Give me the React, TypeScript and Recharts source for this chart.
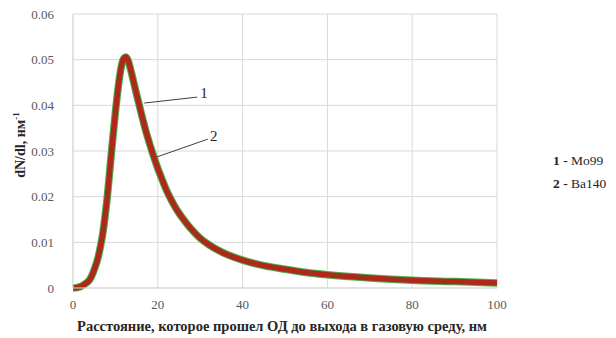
import { LineChart, Line, XAxis, YAxis, CartesianGrid, ReferenceLine, ReferenceDot, Label } from 'recharts'

const distance = [0, 1, 2, 3, 4, 5, 6, 6.5, 7, 7.5, 8, 9, 10, 11, 11.5, 12, 12.5, 13, 13.5, 14, 15, 16, 17, 18, 19, 20, 21, 22, 23, 24, 25, 26, 27, 28, 29, 30, 32, 35, 40, 45, 50, 55, 60, 70, 80, 90, 100]
const mo99 = [0, 0.0001, 0.0004, 0.001, 0.0019, 0.004, 0.007, 0.0092, 0.0118, 0.0152, 0.0192, 0.029, 0.0385, 0.0463, 0.049, 0.0503, 0.0506, 0.0498, 0.0482, 0.0463, 0.0424, 0.0386, 0.035, 0.0318, 0.0289, 0.0262, 0.0238, 0.0215, 0.0196, 0.0179, 0.0164, 0.0151, 0.0139, 0.0128, 0.0118, 0.0109, 0.0095, 0.0079, 0.0061, 0.0049, 0.0041, 0.0034, 0.0029, 0.0022, 0.0017, 0.0014, 0.0011]
const ba140 = [0, 0.0001, 0.0004, 0.001, 0.0019, 0.004, 0.007, 0.0092, 0.0118, 0.0152, 0.0192, 0.029, 0.0385, 0.0463, 0.049, 0.0503, 0.0506, 0.0498, 0.0482, 0.0463, 0.0424, 0.0386, 0.035, 0.0318, 0.0289, 0.0262, 0.0238, 0.0215, 0.0196, 0.0179, 0.0164, 0.0151, 0.0139, 0.0128, 0.0118, 0.0109, 0.0095, 0.0079, 0.0061, 0.0049, 0.0041, 0.0034, 0.0029, 0.0022, 0.0017, 0.0014, 0.0011]
const xTicks = [0, 20, 40, 60, 80, 100]
const yTicks = [0, 0.01, 0.02, 0.03, 0.04, 0.05, 0.06]

const data = distance.map((d, i) => ({ d, mo99: mo99[i], ba140: ba140[i] }))

const font = "'Liberation Serif', 'Times New Roman', 'DejaVu Serif', serif"

const yLabel = () => (
    <text
        x={22}
        y={145}
        transform="rotate(-90 22 145)"
        textAnchor="middle"
        dominantBaseline="middle"
        style={{ fontFamily: font, fontWeight: 'bold', fontSize: 14, fill: '#262626' }}
    >
        dN/dl,  нм<tspan dy={-5} fontSize={9}>-1</tspan>
    </text>
)

const tickStyle = { fill: '#595959', fontSize: 13, fontFamily: font }

export default function App() {
    return (
        <div style={{ position: 'absolute', left: 0, top: 0, width: 616, height: 338, background: '#fff', fontFamily: font }}>
            <LineChart
                width={616}
                height={338}
                data={data}
                margin={{ top: 14, right: 119, bottom: 0, left: 0 }}
                style={{ fontFamily: font }}
            >
                <CartesianGrid stroke="#d9d9d9" strokeWidth={1} />
                <XAxis
                    dataKey="d"
                    type="number"
                    domain={[0, 100]}
                    ticks={xTicks}
                    height={50}
                    axisLine={{ stroke: '#d9d9d9' }}
                    tickLine={false}
                    tick={tickStyle}
                    tickMargin={6}
                >
                    <Label
                        value="Расстояние, которое прошел ОД до выхода в газовую среду, нм"
                        position="insideBottom"
                        offset={7}
                        dx={-3}
                        style={{ fontFamily: font, fontWeight: 'bold', fontSize: 14.5, fill: '#262626' }}
                    />
                </XAxis>
                <YAxis
                    type="number"
                    domain={[0, 0.06]}
                    ticks={yTicks}
                    width={73}
                    axisLine={{ stroke: '#d9d9d9' }}
                    tickLine={false}
                    tick={tickStyle}
                    tickMargin={13}
                    tickFormatter={(v: number) => (v === 0 ? '0' : v.toFixed(2))}
                >
                    <Label content={yLabel} />
                </YAxis>
                <Line
                    dataKey="ba140"
                    type="monotone"
                    stroke="#4caf50"
                    strokeWidth={7.5}
                    dot={false}
                    isAnimationActive={false}
                />
                <Line
                    dataKey="mo99"
                    type="monotone"
                    stroke="#ad2a1a"
                    strokeWidth={5.5}
                    dot={false}
                    isAnimationActive={false}
                />
                <ReferenceLine
                    segment={[{ x: 16.8, y: 0.0405 }, { x: 29.3, y: 0.0418 }]}
                    stroke="#404040"
                    strokeWidth={1}
                />
                <ReferenceLine
                    segment={[{ x: 19.8, y: 0.0287 }, { x: 31.8, y: 0.0326 }]}
                    stroke="#404040"
                    strokeWidth={1}
                />
                <ReferenceDot x={30.9} y={0.0428} r={0} fill="none" stroke="none">
                    <Label value="1" position="center" style={{ fontFamily: font, fontSize: 15, fill: '#262626' }} />
                </ReferenceDot>
                <ReferenceDot x={33.2} y={0.0334} r={0} fill="none" stroke="none">
                    <Label value="2" position="center" style={{ fontFamily: font, fontSize: 15, fill: '#262626' }} />
                </ReferenceDot>
            </LineChart>
            <div style={{ position: 'absolute', left: 553, top: 149, fontFamily: font, fontSize: 13.5, color: '#262626', lineHeight: '23px' }}>
                <div><b>1 -</b> Mo99</div>
                <div><b>2 -</b> Ba140</div>
            </div>
        </div>
    )
}
